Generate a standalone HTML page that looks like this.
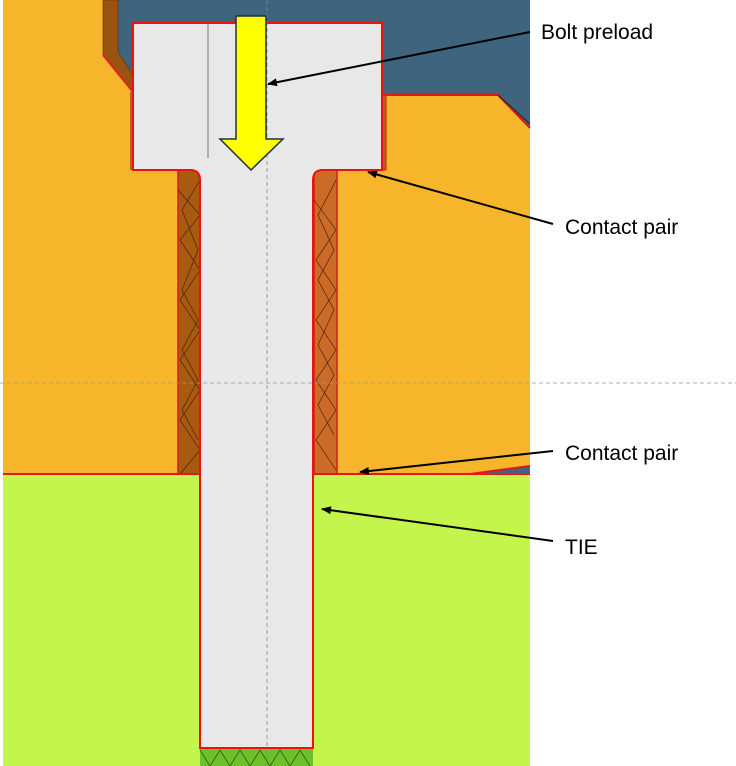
<!DOCTYPE html>
<html><head><meta charset="utf-8"><style>
html,body{margin:0;padding:0;background:#fff;}
svg{display:block;}
text{font-family:"Liberation Sans",sans-serif;font-size:21px;fill:#000;}
</style></head><body>
<svg width="736" height="766" viewBox="0 0 736 766" xmlns="http://www.w3.org/2000/svg">
<defs>
<marker id="ah" markerWidth="10" markerHeight="8" refX="9" refY="4" orient="auto" markerUnits="userSpaceOnUse">
<path d="M0,0 L10,4 L0,8 Z" fill="#000"/>
</marker>
</defs>
<!-- orange background -->
<rect x="3" y="0" width="527" height="474" fill="#f7b52b"/>
<!-- blue region -->
<polygon points="103,0 530,0 530,128 498,95 382,95 382,23 133,23 133,92 103,55" fill="#3e647e"/>
<!-- brown left strip top -->
<polygon points="103,0 118,0 118,52 136,80 133,92 103,55" fill="#9a5412" stroke="#5a2e08" stroke-width="0.6"/>
<polyline points="103,55 133,92" stroke="#e02020" stroke-width="2" fill="none"/>
<polygon points="130,92 135,92 135,170 130,170" fill="#b0641c"/>
<!-- right orange edge lines -->
<polyline points="382,95 498,95 530,128" stroke="#e01818" stroke-width="2" fill="none"/>
<line x1="498" y1="95" x2="530" y2="124" stroke="#333" stroke-width="1.5"/>
<rect x="382" y="95" width="4" height="75" fill="#b0641c" stroke="#e01818" stroke-width="1"/>
<!-- brown strips alongside shank -->
<rect x="178" y="170" width="22" height="304" fill="#a85a10" stroke="#e01818" stroke-width="1.5"/>
<rect x="314" y="170" width="23" height="304" fill="#cc6a28" stroke="#e01818" stroke-width="1.5"/>
<g stroke="#3a1a05" stroke-width="0.6" fill="none">
<path d="M178,190 L200,215 L180,240 L200,270 L180,300 L200,330 L180,360 L200,390 L180,420 L200,450 L180,474"/>
<path d="M200,180 L182,210 L198,250 L182,290 L198,320 L182,350 L198,380 L182,410 L198,440"/>
<path d="M314,200 L336,230 L316,260 L336,290 L316,320 L336,350 L316,380 L336,410 L316,440 L336,470"/>
<path d="M336,180 L318,215 L334,250 L318,280 L334,310 L318,345 L334,375 L318,405 L334,435"/>
</g>
<!-- green lower plate -->
<rect x="3" y="474" width="527" height="292" fill="#c3f54d"/>
<line x1="3" y1="474" x2="530" y2="474" stroke="#e01818" stroke-width="2"/>
<polygon points="470,474 530,466 530,474" fill="#3e647e"/>
<line x1="470" y1="474" x2="530" y2="466" stroke="#e01818" stroke-width="2"/>
<!-- green mesh bottom -->
<rect x="200" y="748" width="113" height="18" fill="#6cc02a"/>
<path d="M200,750 L210,766 L220,750 L230,766 L240,750 L250,766 L260,750 L270,766 L280,750 L290,766 L300,750 L310,766" stroke="#2c5a10" stroke-width="0.8" fill="none"/>
<!-- bolt -->
<path d="M133,23 L382,23 L382,170 L323,170 Q313,170 313,180 L313,748 L200,748 L200,180 Q200,170 190,170 L133,170 Z" fill="#e8e8e8" stroke="#f01010" stroke-width="2"/>
<line x1="208" y1="24" x2="208" y2="158" stroke="#555" stroke-width="0.8"/>
<!-- dashed center lines -->
<line x1="267" y1="0" x2="267" y2="766" stroke="#888" stroke-width="0.8" stroke-dasharray="4,3"/>
<line x1="0" y1="383" x2="736" y2="383" stroke="#999" stroke-width="0.8" stroke-dasharray="4,3"/>
<!-- yellow arrow -->
<polygon points="236,16 266,16 266,139 283,139 251,170 220,139 236,139" fill="#ffff00" stroke="#1e3040" stroke-width="1.5"/>
<!-- annotations -->
<line x1="530" y1="32" x2="268" y2="84" stroke="#000" stroke-width="2" marker-end="url(#ah)"/>
<line x1="553" y1="224" x2="368" y2="172" stroke="#000" stroke-width="2" marker-end="url(#ah)"/>
<line x1="553" y1="451" x2="360" y2="472" stroke="#000" stroke-width="2" marker-end="url(#ah)"/>
<line x1="553" y1="541" x2="322" y2="509" stroke="#000" stroke-width="2" marker-end="url(#ah)"/>
<text x="541" y="39">Bolt preload</text>
<text x="565" y="234">Contact pair</text>
<text x="565" y="460">Contact pair</text>
<text x="565" y="554">TIE</text>
</svg>
</body></html>
